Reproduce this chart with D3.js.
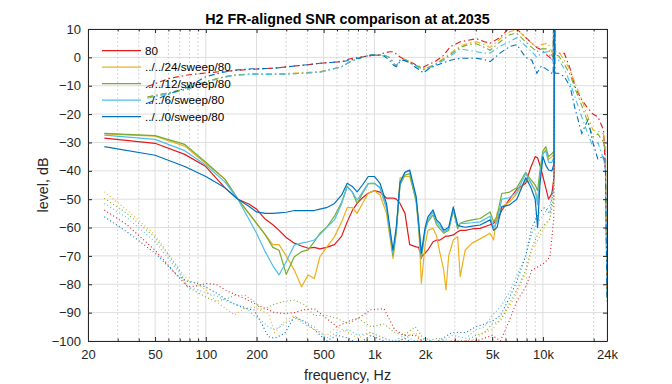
<!DOCTYPE html>
<html>
<head>
<meta charset="utf-8">
<script src="https://cdn.jsdelivr.net/npm/d3@7"></script>
<style>
  body { margin: 0; background: #fff; }
  svg text { font-family: "Liberation Sans", Arial, Helvetica, sans-serif; fill: #262626; }
</style>
</head>
<body>
<div id="chart"></div>
<script>
"use strict";

// == DATA ==
var legendNames = ["80", "../../24/sweep/80", "../../12/sweep/80", "../../6/sweep/80", "../../0/sweep/80"];

// H2 level (solid lines)
var freqH2 = [25, 50, 75, 100, 130, 155, 180, 200, 225, 250, 272, 300, 335, 370, 405, 440, 475, 520, 580, 640,
  690, 740, 790, 850, 920, 1000, 1080, 1180, 1290, 1350, 1420, 1520, 1620, 1770, 1830, 1900, 2000, 2080, 2230, 2340,
  2450, 2580, 2660, 2760, 2940, 3120, 3230, 3460, 3800, 4240, 4860, 5100, 5340, 5700, 6340, 7000, 7900, 8450, 9000, 9300,
  9600, 10000, 10400, 10800, 11300, 11650, 11750];
var h2Red = [-28.5, -30.3, -34.2, -38.5, -46, -50, -51.7, -53.5, -57, -59,
  -61, -63.5, -65.5, -66.5, -67.3, -67, -67.5, -67, -66, -63,
  -58, -54, -51.5, -49.5, -47.9, -47, -47.5, -49.6, -49.6, -50,
  -51.5, -55, -66, -66.8, -67, -70.3, -69, -67.9, -65, -64.4,
  -64.4, -63.5, -63, -63, -62.6, -61.5, -61, -61, -60.5, -60.3,
  -59, -58.5, -57.3, -54, -50, -46.5, -44.4, -39, -35, -35.5,
  -38, -42, -46, -50, -48, -42, 40];
var h2Yellow = [-27, -27.8, -31.3, -37.4, -43, -50, -55, -58.5, -62.5, -66,
  -66, -70, -75, -80.9, -76.7, -78, -70.3, -67, -63.2, -58,
  -53, -53, -55, -51.5, -47.9, -47, -48.5, -55, -70.9, -62,
  -42.5, -42, -42, -50, -58.5, -79.7, -66, -60.9, -60.3, -63,
  -69, -75, -82, -70, -64.4, -63.2, -77.3, -67.9, -65.5, -64,
  -62, -64.4, -55, -52.7, -51, -48, -43.2, -44, -47, -50,
  -42, -34, -32.5, -36, -35, -34, 40];
var h2Green = [-26.8, -27.6, -30.7, -37, -43, -50, -55, -58.5, -62.5, -67,
  -68, -76.5, -70.3, -68.5, -67.9, -65, -62, -60, -56, -51,
  -45.5, -47.5, -51.5, -48, -44.5, -44.4, -46, -53, -70, -61,
  -45, -41.5, -41, -51, -60, -71, -61, -58, -55.5, -59,
  -60.5, -62, -61.5, -61, -54, -60.5, -58.5, -57.8, -57.3, -56.8,
  -54.5, -58, -56, -48, -47.5, -46, -40.5, -43, -45, -47,
  -40, -33, -31.5, -35, -34, -33, 40];
var h2LightBlue = [-27.4, -28.9, -32.9, -38, -44, -50, -57, -62, -68.5, -73.5,
  -76.7, -72, -66.2, -65.5, -65, -64.4, -62.5, -60, -57.3, -51.5,
  -45.6, -47.5, -50.3, -47.5, -44.4, -44.4, -46, -53, -69, -61,
  -44.5, -40.5, -40, -50, -59, -70, -61, -57.3, -54.5, -58,
  -59.5, -61.5, -61, -60.5, -53.5, -59.8, -58.5, -58.5, -58.3, -58,
  -56, -60, -58, -50, -49.5, -47.5, -41, -44, -47, -52,
  -42, -34, -33, -37, -37, -35, 40];
var h2Blue = [-31.5, -34.5, -38.5, -42, -46, -50, -52.5, -54.5, -55, -55,
  -54.8, -54.6, -54, -54, -54, -54, -53.5, -53, -51.5, -48.5,
  -44.4, -45.5, -47.4, -45, -42, -42, -44.4, -51.5, -68, -59.7,
  -44, -40.5, -39.7, -49.1, -58, -69, -60, -56.2, -53.8, -57.3,
  -58.5, -60.9, -60.5, -59.9, -52.7, -59.1, -59.5, -59.9, -59.5, -59.1,
  -57.3, -61, -60, -52.7, -52, -50, -42.5, -45.6, -50, -60,
  -45, -35, -38, -39.7, -40, -37.4, 40];

// fundamental level (dash-dot lines)
var freqFund = [45, 60, 78, 100, 125, 150, 190, 250, 306, 400, 475, 550, 640, 720, 840, 950, 1050, 1140, 1230, 1300,
  1350, 1415, 1480, 1620, 1750, 1870, 1950, 2100, 2290, 2550, 2830, 3230, 3600, 4030, 4500, 4860, 5570, 6340, 7000, 7900,
  8600, 9200, 9800, 10700, 11500, 11700, 11800, 12400, 13400, 14500, 15500, 17000, 18500, 19800, 21200, 22900, 23500, 24000];
var fundRed = [-10.3, -7.5, -6.2, -5.5, -5, -4.6, -4.2, -3.8, -3.3, -2.6,
  -2.1, -1.8, -1.5, -0.5, 0.2, 0.5, 0.8, 1.5, 2, 2,
  1.2, 0.2, -0.5, -1.5, -2.5, -3.3, -3.5, -2.5, -1.5, 0.5,
  3.8, 5.5, 6, 6.6, 5.5, 5, 7, 10.5, 10, 7,
  5, 3.5, 2.6, 0.5, -1, 40, 1.4, 1.4, 1.4, -4,
  -10.3, -15, -18, -20, -21, -25.6, -40, -82];
var fundYellow = [-14, -12.5, -11, -8.5, -7, -6.2, -5.8, -5.8, -5.7, -5.3,
  -5, -4.2, -3.3, -1.5, 0, 0.8, 0.8, 0.8, 0, -2,
  -3, -1, -0.5, -1.5, -2.8, -3.5, -4, -3.5, -2.5, -0.5,
  1.5, 4, 5, 5.5, 4.5, 3.5, 6.5, 9, 9.8, 7,
  5, 3.5, 4.5, 5, 1, 40, 2, 2, -1, -4.5,
  -9, -15, -21, -25.6, -26, -27, -31.5, -85];
var fundGreen = [-14, -12.5, -11, -8.5, -7, -6.2, -5.9, -6, -5.9, -5.5,
  -5.2, -4.3, -3.3, -1.5, 0, 0.8, 0.8, 0.8, 0, -2,
  -3, -1, -0.5, -1.5, -2.8, -3.5, -4.2, -3.5, -2.5, -0.8,
  1, 3.5, 4.5, 4.8, 3.5, 2.5, 5.5, 8, 8.5, 5.5,
  3.5, 2, 3, 3, 0, 40, 1, 0.5, -2.5, -6,
  -11, -17, -23, -28, -27, -30, -34, -84];
var fundLightBlue = [-14.4, -12.8, -11.3, -8.7, -7.2, -6.3, -6, -6, -5.9, -5.5,
  -5.2, -4.3, -3.3, -1.5, 0, 0.8, 0.8, 0.8, 0, -2,
  -3, -1.2, -0.8, -1.8, -3, -3.8, -4.5, -3.8, -2.8, -1.2,
  0.5, 3, 2.5, 2, 1.5, 1.5, 4, 5.5, 7, 4,
  2, 0, 1.5, 2, -1.5, 40, 0, -1, -4, -9,
  -14, -21, -27, -31.5, -30, -36, -40, -83];
var fundBlue = [-16.2, -13, -10.5, -6.8, -5.3, -4.5, -4, -3.9, -3.3, -2.6,
  -2.1, -1.8, -1.5, -1, 0, 0.8, 0.8, 0.5, -1, -2.8,
  -3.3, -1.5, -1, -1.8, -3.5, -4.5, -5.5, -4, -3, -2,
  -1, -0.3, -0.3, -0.3, -0.8, -1.5, 1.5, 3.8, 4.5, 0,
  -1, -5.6, -3, -4.5, -6, 40, -5.6, -5.6, -6.8, -10.3,
  -18, -26.8, -22, -30, -36, -34.7, -39.7, -86];

// noise level (dotted lines)
var freqNoise = [25, 34, 50, 68, 78, 90, 100, 115, 134, 148, 170, 193, 215, 235, 256, 294, 335, 380, 440, 520,
  600, 700, 800, 955, 1140, 1320, 1500, 1750, 2000, 2400, 2900, 3500, 4000, 4500, 5000, 5600, 6300, 7000, 7900, 8600,
  9400, 10200, 11000, 11600, 11750];
var noiseRed = [-53.8, -59, -68, -77, -80.9, -80.5, -79.7, -80, -82.4, -83.5,
  -85, -86.7, -88, -89, -90, -90.3, -90, -89, -88.6, -92,
  -95, -93, -92, -89, -88.6, -96, -98, -98, -101, -101,
  -100, -100, -100, -99, -98, -100, -93, -86, -81, -75,
  -73.8, -72.5, -70.3, -57, 40];
var noiseYellow = [-47.4, -53.8, -62.6, -74, -78.5, -80, -82, -86, -89, -90.8,
  -88.5, -88, -89.5, -90.3, -97, -93, -91, -94, -96, -98,
  -95, -97, -99, -97, -99, -101, -99, -97, -101, -100,
  -101, -101, -99, -97, -96, -92, -88, -83, -76, -68,
  -64, -60, -57, -50, 40];
var noiseGreen = [-49.7, -55, -63.5, -74, -81, -83, -84.5, -86.1, -85, -84,
  -83.8, -86, -89, -88, -87, -86, -85.6, -87, -91, -91,
  -92, -94, -92, -95, -94, -97, -98, -95, -100, -99,
  -101, -100, -98, -97, -94, -93, -87, -82, -75, -67,
  -62, -59, -57, -48, 40];
var noiseLightBlue = [-51.5, -56.5, -65, -75, -81, -82, -83, -84, -86, -87,
  -88, -91, -93, -95, -96, -94, -92, -93, -95, -99,
  -97, -96, -98, -97, -99, -100, -98, -100, -99, -101,
  -98, -99, -96, -95, -91, -88, -83, -77, -70, -62,
  -58, -55, -52, -46, 40];
var noiseBlue = [-56.2, -61.5, -69, -77, -79, -79.7, -81, -83, -85.6, -87,
  -88.5, -89, -94, -98.5, -99, -97.3, -91.4, -93, -96, -100,
  -98, -99, -101, -98, -100, -101, -99, -101, -101, -100,
  -97, -97, -95, -94, -93, -91, -85, -79, -70, -60,
  -55, -53, -55, -45, 40];

// axis ticks
var xTicks = [20, 50, 100, 200, 500, 1000, 2000, 5000, 10000, 24000];
var xTickLabels = ["20", "50", "100", "200", "500", "1k", "2k", "5k", "10k", "24k"];
var xMinor = [30, 40, 60, 70, 80, 90, 300, 400, 600, 700, 800, 900, 3000, 4000, 6000, 7000, 8000, 9000, 20000];
var yTicks = [10, 0, -10, -20, -30, -40, -50, -60, -70, -80, -90, -100];

// == BOILERPLATE ==
var W = 672, H = 384;
var margin = { top: 29, right: 65, bottom: 43, left: 88 };
var width = W - margin.left - margin.right,
    height = H - margin.top - margin.bottom;

var colors = ["#e3191c", "#edb120", "#77ac30", "#4dbeee", "#0072bd"];

var svg = d3.select("#chart")
  .append("svg")
  .attr("width", W)
  .attr("height", H);

var g = svg.append("g")
  .attr("transform", "translate(" + margin.left + "," + margin.top + ")");

var x = d3.scaleLog().domain([20, 24000]).range([0, width]);
var y = d3.scaleLinear().domain([-100, 10]).range([height, 0]);

// grid
g.selectAll(".ygrid").data(yTicks).enter().append("line")
  .attr("x1", 0).attr("x2", width)
  .attr("y1", function(d) { return y(d); }).attr("y2", function(d) { return y(d); })
  .attr("stroke", "#dedede").attr("stroke-width", 1);

g.selectAll(".xminor").data(xMinor).enter().append("line")
  .attr("x1", function(d) { return x(d); }).attr("x2", function(d) { return x(d); })
  .attr("y1", 0).attr("y2", height)
  .attr("stroke", "#d6d6d6").attr("stroke-width", 1)
  .attr("stroke-dasharray", "2,2");

g.selectAll(".xgrid").data(xTicks).enter().append("line")
  .attr("x1", function(d) { return x(d); }).attr("x2", function(d) { return x(d); })
  .attr("y1", 0).attr("y2", height)
  .attr("stroke", "#dedede").attr("stroke-width", 1);

// == LINES ==
g.append("clipPath").attr("id", "plotclip")
  .append("rect").attr("width", width).attr("height", height);

var plot = g.append("g").attr("clip-path", "url(#plotclip)");

var line = d3.line()
  .x(function(d) { return x(d[0]); })
  .y(function(d) { return y(d[1]); });

var zip = function(fs, vs) {
  return fs.map(function(f, i) { return [f, vs[i]]; });
};

var h2All = [h2Red, h2Yellow, h2Green, h2LightBlue, h2Blue];
var fundAll = [fundRed, fundYellow, fundGreen, fundLightBlue, fundBlue];
var noiseAll = [noiseRed, noiseYellow, noiseGreen, noiseLightBlue, noiseBlue];

for (var i = 0; i < legendNames.length; i++) {
  plot.append("path")
    .attr("d", line(zip(freqNoise, noiseAll[i])))
    .attr("fill", "none").attr("stroke", colors[i]).attr("stroke-width", 1.1)
    .attr("stroke-dasharray", "1,2.5");
  plot.append("path")
    .attr("d", line(zip(freqFund, fundAll[i])))
    .attr("fill", "none").attr("stroke", colors[i]).attr("stroke-width", 1.1)
    .attr("stroke-dasharray", "6,3,1.5,3");
  plot.append("path")
    .attr("d", line(zip(freqH2, h2All[i])))
    .attr("fill", "none").attr("stroke", colors[i]).attr("stroke-width", 1.2)
    .attr("stroke-linejoin", "round");
}

// == AXES ==
var styleAxis = function(sel) {
  sel.selectAll("path.domain").attr("stroke", "#262626");
  sel.selectAll(".tick line").attr("stroke", "#262626");
  sel.selectAll("text").attr("font-size", 13).attr("fill", "#262626")
    .style("font-family", "'Liberation Sans', Arial, sans-serif");
};

g.append("g").attr("transform", "translate(0," + height + ")")
  .call(d3.axisBottom(x).tickValues(xMinor).tickFormat("").tickSizeInner(-2.5).tickSizeOuter(0))
  .call(function(s) { s.select(".domain").remove(); s.selectAll(".tick line").attr("stroke", "#262626"); });
g.append("g")
  .call(d3.axisTop(x).tickValues(xMinor).tickFormat("").tickSizeInner(-2.5).tickSizeOuter(0))
  .call(function(s) { s.select(".domain").remove(); s.selectAll(".tick line").attr("stroke", "#262626"); });

g.append("g").attr("transform", "translate(0," + height + ")")
  .call(d3.axisBottom(x).tickValues(xTicks)
    .tickFormat(function(d, i) { return xTickLabels[i]; })
    .tickSizeInner(-4).tickSizeOuter(0).tickPadding(9))
  .call(styleAxis);
g.append("g")
  .call(d3.axisTop(x).tickValues(xTicks).tickFormat("").tickSizeInner(-4).tickSizeOuter(0))
  .call(styleAxis);
g.append("g")
  .call(d3.axisLeft(y).tickValues(yTicks).tickSizeInner(-4).tickSizeOuter(0).tickPadding(7))
  .call(styleAxis);
g.append("g").attr("transform", "translate(" + width + ",0)")
  .call(d3.axisRight(y).tickValues(yTicks).tickFormat("").tickSizeInner(-4).tickSizeOuter(0))
  .call(styleAxis);

// == TEXT ==
svg.append("text")
  .attr("x", margin.left + width / 2).attr("y", 24)
  .attr("text-anchor", "middle").attr("font-size", 14.3).attr("font-weight", "bold")
  .style("fill", "#000")
  .text("H2 FR-aligned SNR comparison at at.2035");

svg.append("text")
  .attr("x", margin.left + width / 2).attr("y", 380)
  .attr("text-anchor", "middle").attr("font-size", 14.3)
  .text("frequency, Hz");

svg.append("text")
  .attr("transform", "translate(48," + (margin.top + height / 2) + ") rotate(-90)")
  .attr("text-anchor", "middle").attr("font-size", 14.3)
  .text("level, dB");

// legend (no box, no background)
var legend = svg.append("g");
legendNames.forEach(function(name, i) {
  var ly = 50.7 + i * 16.5;
  legend.append("line")
    .attr("x1", 102).attr("x2", 141).attr("y1", ly).attr("y2", ly)
    .attr("stroke", colors[i]).attr("stroke-width", 1.2);
  legend.append("text")
    .attr("x", 145).attr("y", ly + 4.2)
    .attr("font-size", 11.7).style("fill", "#000")
    .text(name);
});
</script>
</body>
</html>
